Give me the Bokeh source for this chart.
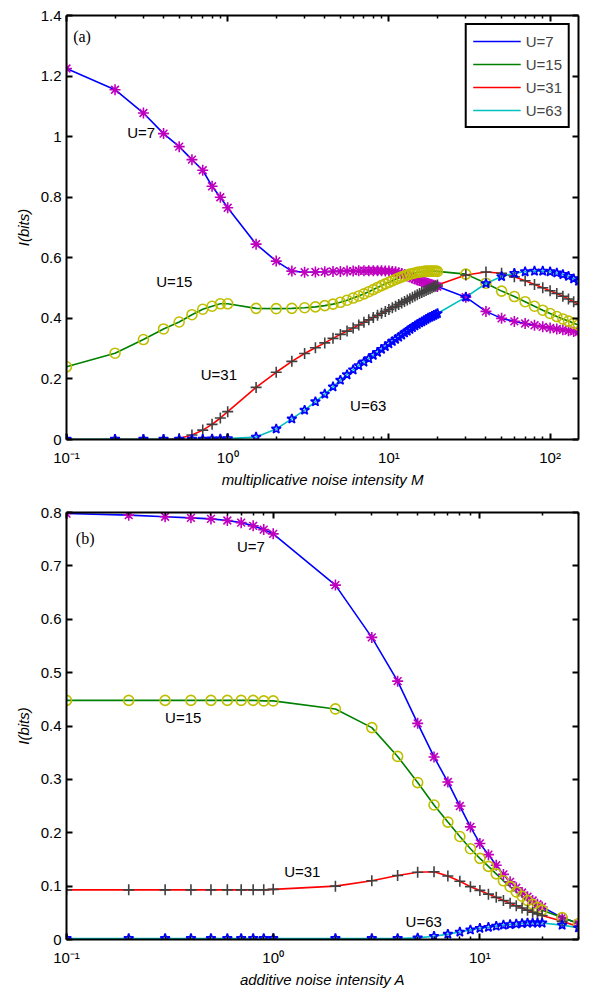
from bokeh.plotting import figure
from bokeh.models import (LinearAxis, LogAxis, FixedTicker, Range1d, Label, Legend,
                          LegendItem, CustomJSTickFormatter)
from bokeh.layouts import column
from bokeh.embed import file_html
from bokeh.resources import INLINE

# ---------------- data: panel (a) multiplicative noise ----------------
x_top = [0.1, 0.2, 0.3, 0.4, 0.5, 0.6, 0.7, 0.8, 0.9, 1.0,
         1.5, 2.0, 2.5, 3.0, 3.5, 4.0, 4.5, 5.0, 5.5, 6.0, 6.5, 7.0, 7.5, 8.0, 8.5,
         9.0, 9.5, 10.0, 10.5, 11.0, 11.5, 12.0, 12.5, 13.0, 13.5, 14.0, 14.5, 15.0,
         15.5, 16.0, 16.5, 17.0, 17.5, 18.0, 18.5, 19.0, 19.5, 20.0,
         30, 40, 50, 60, 70, 80, 90, 100, 110, 120, 130, 140, 150]

top_u7 = [1.225, 1.155, 1.078, 1.010, 0.967, 0.924, 0.889, 0.836, 0.800, 0.765,
          0.645, 0.589, 0.556, 0.552, 0.553, 0.554, 0.555, 0.555, 0.556, 0.556, 0.557, 0.557,
          0.557, 0.557, 0.557, 0.557, 0.556, 0.556, 0.555, 0.554, 0.551, 0.548, 0.544,
          0.540, 0.537, 0.533, 0.530, 0.527, 0.525, 0.522, 0.520, 0.517, 0.515, 0.513,
          0.511, 0.509, 0.507, 0.505,
          0.470, 0.423, 0.400, 0.390, 0.383, 0.377, 0.372, 0.368, 0.365, 0.362, 0.359,
          0.357, 0.355]

top_u15 = [0.240, 0.285, 0.330, 0.365, 0.388, 0.412, 0.430, 0.440, 0.448, 0.448,
           0.433, 0.432, 0.433, 0.435, 0.438, 0.442, 0.447, 0.453, 0.460, 0.467, 0.474,
           0.481, 0.488, 0.495, 0.502, 0.508, 0.514, 0.519, 0.524, 0.529, 0.533, 0.537,
           0.540, 0.543, 0.546, 0.548, 0.550, 0.552, 0.553, 0.554, 0.555, 0.556, 0.556,
           0.556, 0.556, 0.556, 0.556, 0.555,
           0.546, 0.516, 0.490, 0.472, 0.455, 0.440, 0.427, 0.416, 0.406, 0.398, 0.391,
           0.384, 0.378]

top_u31 = [0.000, 0.000, 0.000, 0.000, 0.003, 0.015, 0.031, 0.050, 0.071, 0.092,
           0.172, 0.222, 0.258, 0.284, 0.303, 0.319, 0.334, 0.347, 0.358, 0.368, 0.378,
           0.387, 0.395, 0.403, 0.410, 0.417, 0.423, 0.429, 0.435, 0.440, 0.446, 0.451,
           0.456, 0.461, 0.465, 0.470, 0.474, 0.478, 0.482, 0.485, 0.489, 0.492, 0.495,
           0.498, 0.501, 0.504, 0.507, 0.510,
           0.543, 0.553, 0.549, 0.537, 0.524, 0.512, 0.501, 0.491, 0.482, 0.473, 0.464,
           0.455, 0.446]

top_u63 = [0.001, 0.001, 0.001, 0.001, 0.001, 0.001, 0.001, 0.002, 0.002, 0.003,
           0.008, 0.035, 0.068, 0.097, 0.125, 0.150, 0.174, 0.196, 0.214, 0.230, 0.244,
           0.256, 0.267, 0.278, 0.288, 0.298, 0.307, 0.316, 0.324, 0.331, 0.338, 0.345,
           0.352, 0.358, 0.364, 0.370, 0.375, 0.380, 0.385, 0.389, 0.393, 0.397, 0.401,
           0.404, 0.407, 0.410, 0.413, 0.416,
           0.470, 0.515, 0.538, 0.549, 0.554, 0.556, 0.556, 0.554, 0.550, 0.545, 0.539,
           0.531, 0.523]

# ---------------- data: panel (b) additive noise ----------------
x_bot = [0.1, 0.2, 0.3, 0.4, 0.5, 0.6, 0.7, 0.8, 0.9, 1.0,
         2, 3, 4, 5, 6, 7, 8, 9, 10, 11, 12, 13, 14, 15, 16, 17, 18, 19, 20,
         25, 30]

bot_u7 = [0.798, 0.795, 0.792, 0.790, 0.788, 0.785, 0.781, 0.775, 0.768, 0.760,
          0.664, 0.566, 0.484, 0.405, 0.342, 0.295, 0.250, 0.211, 0.180, 0.159, 0.139,
          0.122, 0.108, 0.097, 0.088, 0.080, 0.073, 0.066, 0.061,
          0.041, 0.030]

bot_u15 = [0.448, 0.448, 0.448, 0.448, 0.448, 0.448, 0.448, 0.448, 0.447, 0.447,
           0.432, 0.397, 0.343, 0.294, 0.252, 0.220, 0.193, 0.170, 0.152, 0.137, 0.123,
           0.110, 0.099, 0.089, 0.081, 0.073, 0.066, 0.060, 0.055,
           0.041, 0.030]

bot_u31 = [0.093, 0.093, 0.093, 0.093, 0.093, 0.093, 0.093, 0.093, 0.093, 0.094,
           0.100, 0.110, 0.120, 0.126, 0.127, 0.119, 0.109, 0.099, 0.092, 0.085, 0.079,
           0.073, 0.068, 0.063, 0.059, 0.055, 0.051, 0.048, 0.045,
           0.034, 0.024]

bot_u63 = [0.002, 0.002, 0.002, 0.002, 0.002, 0.002, 0.002, 0.002, 0.002, 0.002,
           0.002, 0.002, 0.002, 0.003, 0.006, 0.010, 0.014, 0.018, 0.021, 0.023, 0.025,
           0.027, 0.028, 0.029, 0.030, 0.031, 0.031, 0.031, 0.031,
           0.027, 0.022]

series_names = ["U=7", "U=15", "U=31", "U=63"]
line_colors = ["#0000ff", "#008000", "#ff0000", "#00bfbf"]
marker_kinds = ["asterisk", "circle", "cross", "star"]
marker_colors = ["#bf00bf", "#bfbf00", "#404040", "#0000ff"]
marker_sizes = [11, 10, 11, 10]

x_major = [0.1, 1, 10, 100]
x_major_labels = {0.1: "10⁻¹", 1: "10⁰", 10: "10¹", 100: "10²"}
y_ticks_top = [0, 0.2, 0.4, 0.6, 0.8, 1.0, 1.2, 1.4]
y_ticks_bot = [0, 0.1, 0.2, 0.3, 0.4, 0.5, 0.6, 0.7, 0.8]

FONT = "Liberation Sans"
FS = "15px"


def minor_ticks(lo_exp, hi_exp):
    out = []
    for e in range(lo_exp, hi_exp + 1):
        for m in range(2, 10):
            out.append(m * 10.0 ** e)
    return out


def style_axis(ax, labels=True):
    ax.axis_line_width = 2
    ax.axis_line_color = "black"
    ax.major_tick_in = 6
    ax.major_tick_out = 0
    ax.minor_tick_in = 3
    ax.minor_tick_out = 0
    ax.major_tick_line_width = 2
    ax.minor_tick_line_width = 1.5
    ax.major_tick_line_color = "black"
    ax.minor_tick_line_color = "black"
    ax.major_label_text_font = FONT
    ax.axis_label_text_font = FONT
    ax.axis_label_text_font_size = FS
    ax.axis_label_text_font_style = "italic"
    ax.axis_label_text_color = "black"
    if labels:
        ax.major_label_text_font_size = FS
        ax.major_label_text_color = "black"
    else:
        ax.major_label_text_font_size = "1px"
        ax.major_label_text_alpha = 0
        ax.major_label_standoff = 0


def make_panel(width, height, borders, xr, yr, xs, ys_list, yticks, xlabel,
               texts, legend=False):
    left, right, top, bottom = borders
    p = figure(width=width, height=height, x_axis_type="log",
               x_range=Range1d(*xr), y_range=Range1d(*yr),
               output_backend="svg", toolbar_location=None,
               min_border_left=left, min_border_right=right,
               min_border_top=top, min_border_bottom=bottom)
    p.xgrid.grid_line_color = None
    p.ygrid.grid_line_color = None
    p.outline_line_color = None
    p.background_fill_color = "white"

    xt = FixedTicker(ticks=x_major, minor_ticks=minor_ticks(-1, 2))
    yt = FixedTicker(ticks=yticks, minor_ticks=[])

    xa = p.xaxis[0]
    xa.ticker = xt
    xa.major_label_overrides = x_major_labels
    xa.axis_label = xlabel
    xa.major_label_standoff = 9
    xa.axis_label_standoff = 2
    style_axis(xa)

    ya = p.yaxis[0]
    ya.ticker = yt
    ya.formatter = CustomJSTickFormatter(code="return String(Math.round(tick*10)/10);")
    ya.axis_label = "I(bits)"
    ya.major_label_standoff = 5
    ya.axis_label_standoff = 6
    style_axis(ya)

    top_ax = LogAxis(ticker=xt)
    style_axis(top_ax, labels=False)
    p.add_layout(top_ax, "above")
    right_ax = LinearAxis(ticker=yt)
    style_axis(right_ax, labels=False)
    p.add_layout(right_ax, "right")

    line_renderers = []
    for ys, lc in zip(ys_list, line_colors):
        r = p.line(xs, ys, line_color=lc, line_width=1.6)
        line_renderers.append(r)
    for ys, mk, mc, ms in zip(ys_list, marker_kinds, marker_colors, marker_sizes):
        p.scatter(xs, ys, marker=mk, size=ms, fill_color=None,
                  line_color=mc, line_width=1.6)

    for (tx, ty, txt, serif) in texts:
        p.add_layout(Label(x=tx, y=ty, text=txt,
                           text_font="Liberation Serif" if serif else FONT,
                           text_font_size="16px" if serif else FS,
                           text_baseline="middle", text_align="left",
                           text_color="black"))

    if legend:
        items = [LegendItem(label=n, renderers=[r])
                 for n, r in zip(series_names, line_renderers)]
        lg = Legend(items=items, location="top_right",
                    label_text_font=FONT, label_text_font_size=FS,
                    border_line_color="black", border_line_width=2,
                    border_line_alpha=1.0,
                    glyph_width=48, glyph_height=20, label_height=20,
                    spacing=3, padding=6, margin=8, label_standoff=5,
                    background_fill_color="white", background_fill_alpha=1)
        p.add_layout(lg, "center")
    return p


texts_top = [(0.11, 1.33, "(a)", True),
             (0.238, 1.013, "U=7", False),
             (0.36, 0.523, "U=15", False),
             (0.68, 0.214, "U=31", False),
             (5.74, 0.112, "U=63", False)]

texts_bot = [(0.111, 0.751, "(b)", True),
             (0.668, 0.736, "U=7", False),
             (0.30, 0.415, "U=15", False),
             (1.13, 0.127, "U=31", False),
             (4.37, 0.034, "U=63", False)]

# page has no margin: frames placed at the reference's pixel positions
p1 = make_panel(589, 490, (62, 11, 15, 49), (0.1, 150), (0, 1.4), x_top,
                [top_u7, top_u15, top_u31, top_u63], y_ticks_top,
                "multiplicative noise intensity M", texts_top, legend=True)
p2 = make_panel(589, 500, (66, 3, 22, 50), (0.1, 30), (0, 0.8), x_bot,
                [bot_u7, bot_u15, bot_u31, bot_u63], y_ticks_bot,
                "additive noise intensity A", texts_bot, legend=False)

layout = column(p1, p2)
open("out.html", "w").write(file_html(layout, INLINE))
